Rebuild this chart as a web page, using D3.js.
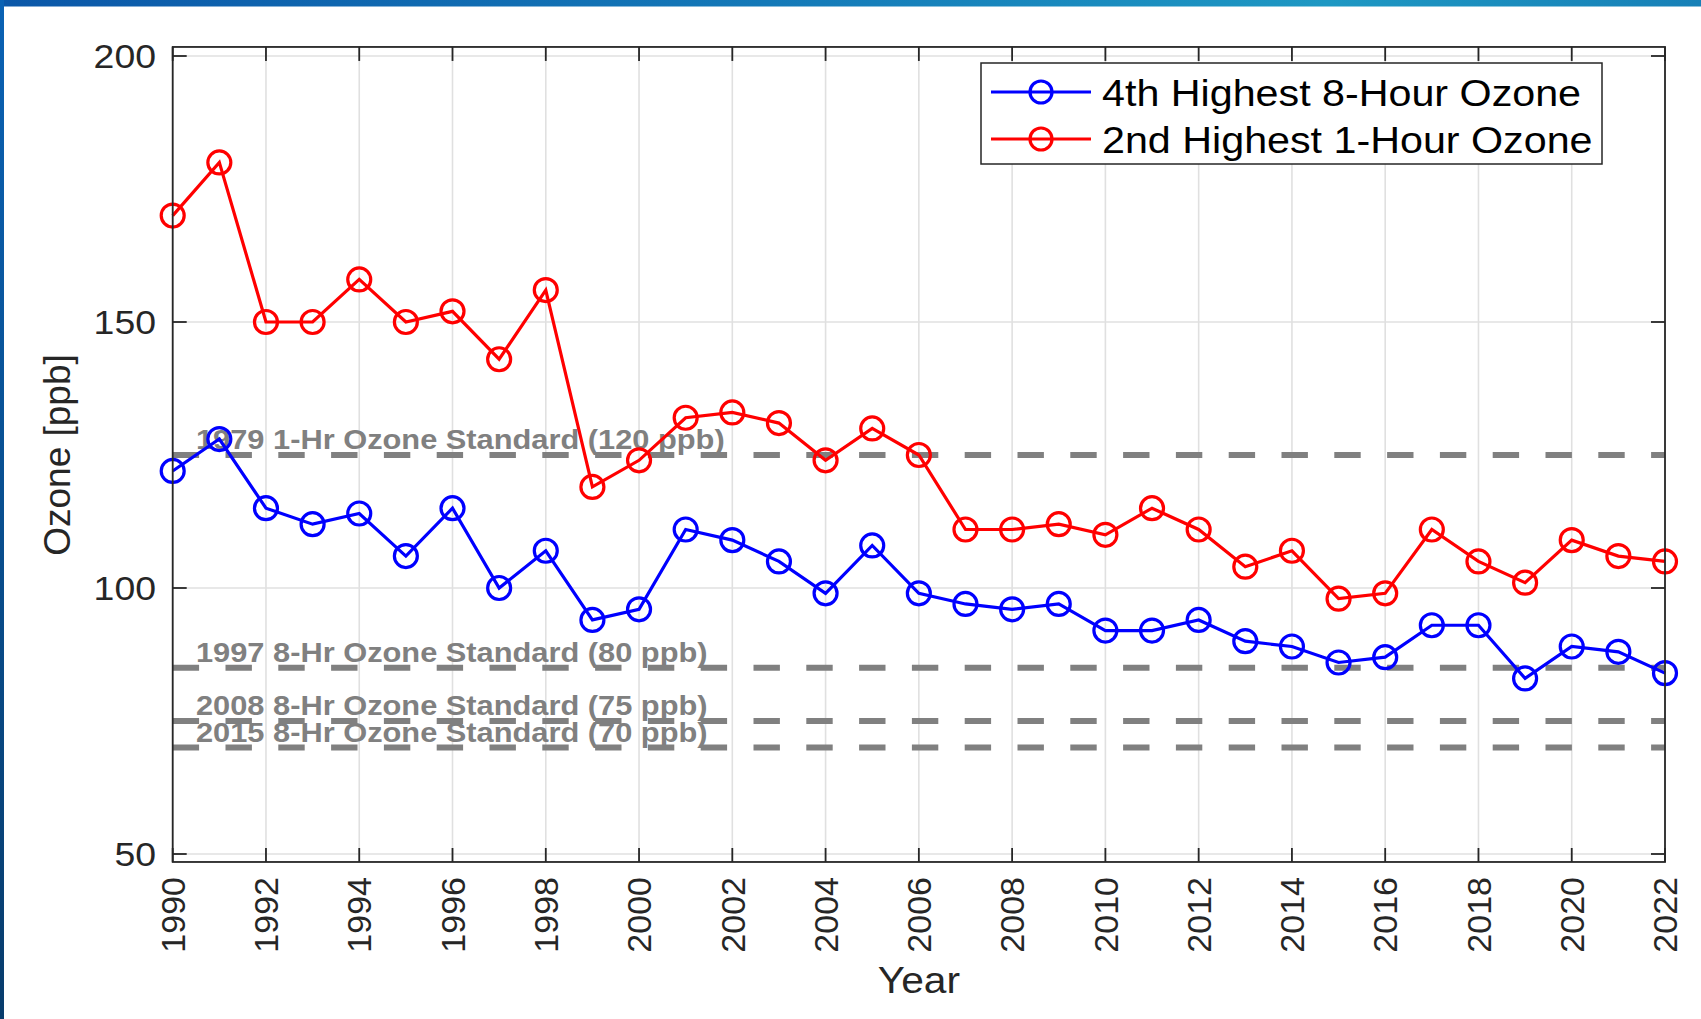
<!DOCTYPE html>
<html><head><meta charset="utf-8">
<script src="https://cdn.jsdelivr.net/npm/d3@7"></script>
<style>
html,body{margin:0;padding:0;background:#fff;}
svg{display:block;font-family:"Liberation Sans",Arial,Helvetica,sans-serif;}
</style></head>
<body>
<svg id="chart" width="1701" height="1019"></svg>
<script>
// ---- data ----
const years = d3.range(1990, 2023);
const eightHour = [122,128,115,112,114,106,115,100,107,94,96,111,109,105,99,108,99,97,96,97,92,92,94,90,89,86,87,93,93,83,89,88,84];
const oneHour   = [170,180,150,150,158,150,152,143,156,119,124,132,133,131,124,130,125,111,111,112,110,115,111,104,107,98,99,111,105,101,109,106,105];
const seriesNames = ["4th Highest 8-Hour Ozone", "2nd Highest 1-Hour Ozone"];
const seriesColors = ["#0000ff", "#ff0000"];
const standardValues = [125, 85, 75, 70];
const standardLabels = ["1979 1-Hr Ozone Standard (120 ppb)", "1997 8-Hr Ozone Standard (80 ppb)", "2008 8-Hr Ozone Standard (75 ppb)", "2015 8-Hr Ozone Standard (70 ppb)"];
const yTicks = [50, 100, 150, 200];
const xTicks = d3.range(1990, 2023, 2);
const xLimits = [1990, 2022];
const yLimits = [48.5, 201.7];

// ---- layout ----
const svg = d3.select("#chart");
const W = 1701, H = 1019;
const x = d3.scaleLinear().domain(xLimits).range([172.7, 1665]);
const y = d3.scaleLinear().domain([50, 200]).range([854, 56]);
const pLeft = x(xLimits[0]), pRight = x(xLimits[1]);
const pTop = y(yLimits[1]), pBottom = y(yLimits[0]);
const axisColor = "#262626";
const sx = 1.1; // horizontal text stretch
const lw = 3.2;

// frame gradients
const defs = svg.append("defs");
const gTop = defs.append("linearGradient").attr("id", "gtop").attr("x1", "0").attr("x2", "1").attr("y1", "0").attr("y2", "0");
gTop.append("stop").attr("offset", "0%").attr("stop-color", "#0b57a8");
gTop.append("stop").attr("offset", "45%").attr("stop-color", "#1479b8");
gTop.append("stop").attr("offset", "78%").attr("stop-color", "#1e98c3");
gTop.append("stop").attr("offset", "100%").attr("stop-color", "#1780b7");
const gLeft = defs.append("linearGradient").attr("id", "gleft").attr("x1", "0").attr("x2", "0").attr("y1", "0").attr("y2", "1");
gLeft.append("stop").attr("offset", "0%").attr("stop-color", "#0a62b4");
gLeft.append("stop").attr("offset", "100%").attr("stop-color", "#083c6c");

svg.append("rect").attr("width", W).attr("height", H).attr("fill", "#fff");
svg.append("rect").attr("x", 0).attr("y", 0).attr("width", W).attr("height", 6.5).attr("fill", "url(#gtop)");
svg.append("rect").attr("x", 0).attr("y", 0).attr("width", 4).attr("height", H).attr("fill", "url(#gleft)");

// grid
const grid = svg.append("g").attr("stroke", "#e0e0e0").attr("stroke-width", 1.6);
grid.selectAll("line.v").data(xTicks).join("line").attr("class", "v")
  .attr("x1", d => x(d)).attr("x2", d => x(d)).attr("y1", pTop).attr("y2", pBottom);
grid.selectAll("line.h").data(yTicks).join("line").attr("class", "h")
  .attr("x1", pLeft).attr("x2", pRight).attr("y1", d => y(d)).attr("y2", d => y(d));

// standards
const std = svg.append("g");
std.selectAll("line").data(standardValues).join("line")
  .attr("x1", pLeft).attr("x2", pRight)
  .attr("y1", d => y(d)).attr("y2", d => y(d))
  .attr("stroke", "#808080").attr("stroke-width", 6)
  .attr("stroke-dasharray", "26.4,26.4");
std.selectAll("text").data(standardLabels).join("text")
  .attr("transform", (d, i) => `translate(196,${y(standardValues[i]) - 6}) scale(${sx},1)`)
  .attr("font-size", 28).attr("font-weight", "bold").attr("fill", "#808080")
  .text(d => d);

// series
const series = [eightHour, oneHour];
const line = d3.line().x((d, i) => x(years[i])).y(d => y(d));
series.forEach((vals, si) => {
  const g = svg.append("g");
  g.append("path").datum(vals).attr("d", line)
    .attr("fill", "none").attr("stroke", seriesColors[si]).attr("stroke-width", lw);
  g.selectAll("circle").data(vals).join("circle")
    .attr("cx", (d, i) => x(years[i])).attr("cy", d => y(d)).attr("r", 11.5)
    .attr("fill", "none").attr("stroke", seriesColors[si]).attr("stroke-width", lw);
});

// axes box & ticks
const ax = svg.append("g").attr("stroke", axisColor).attr("stroke-width", 1.8);
ax.append("rect").attr("x", pLeft).attr("y", pTop).attr("width", pRight - pLeft).attr("height", pBottom - pTop).attr("fill", "none");
const tl = 14;
xTicks.forEach(t => {
  ax.append("line").attr("x1", x(t)).attr("x2", x(t)).attr("y1", pBottom).attr("y2", pBottom - tl);
  ax.append("line").attr("x1", x(t)).attr("x2", x(t)).attr("y1", pTop).attr("y2", pTop + tl);
});
yTicks.forEach(t => {
  ax.append("line").attr("x1", pLeft).attr("x2", pLeft + tl).attr("y1", y(t)).attr("y2", y(t));
  ax.append("line").attr("x1", pRight).attr("x2", pRight - tl).attr("y1", y(t)).attr("y2", y(t));
});

// tick labels
svg.append("g").selectAll("text").data(yTicks).join("text")
  .attr("transform", d => `translate(156,${y(d)}) scale(${sx},1)`)
  .attr("text-anchor", "end").attr("dy", "0.36em")
  .attr("font-size", 34).attr("fill", axisColor).text(d => d);
svg.append("g").selectAll("text").data(xTicks).join("text")
  .attr("transform", d => `translate(${x(d)},877) rotate(-90)`)
  .attr("text-anchor", "end").attr("dy", "0.36em")
  .attr("font-size", 34).attr("fill", axisColor).text(d => d);

// axis labels
svg.append("text").attr("transform", `translate(${(pLeft + pRight) / 2},993) scale(${sx},1)`)
  .attr("text-anchor", "middle").attr("font-size", 37).attr("fill", axisColor).text("Year");
svg.append("text").attr("transform", `translate(70,455) rotate(-90)`)
  .attr("text-anchor", "middle").attr("font-size", 37).attr("fill", axisColor).text("Ozone [ppb]");

// legend
const lg = svg.append("g");
lg.append("rect").attr("x", 981).attr("y", 63).attr("width", 621).attr("height", 101)
  .attr("fill", "#fff").attr("stroke", axisColor).attr("stroke-width", 1.5);
const rowsY = [92, 139];
seriesNames.forEach((name, i) => {
  lg.append("line").attr("x1", 991).attr("x2", 1091).attr("y1", rowsY[i]).attr("y2", rowsY[i])
    .attr("stroke", seriesColors[i]).attr("stroke-width", lw);
  lg.append("circle").attr("cx", 1041).attr("cy", rowsY[i]).attr("r", 11)
    .attr("fill", "none").attr("stroke", seriesColors[i]).attr("stroke-width", lw);
  lg.append("text").attr("transform", `translate(1102,${rowsY[i]}) scale(${sx},1)`)
    .attr("dy", "0.36em").attr("font-size", 37.5).attr("fill", "#000").text(name);
});
</script>
</body></html>
